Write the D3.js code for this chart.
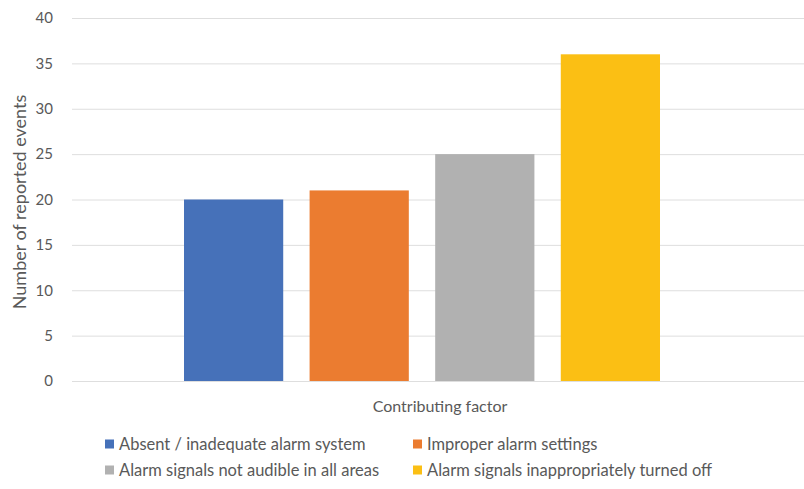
<!DOCTYPE html>
<html>
<head>
<meta charset="utf-8">
<script src="https://cdn.jsdelivr.net/npm/d3@7"></script>
<style>
  html, body { margin: 0; padding: 0; background: #ffffff; }
  svg { display: block; font-family: Lato, "Open Sans", sans-serif; }
</style>
</head>
<body>
<svg id="chart" width="804" height="489"></svg>
<script>
// Contributing factors to alarm-related events
const factors = [
  "Absent / inadequate alarm system",
  "Improper alarm settings",
  "Alarm signals not audible in all areas",
  "Alarm signals inappropriately turned off"
];
const eventCounts = [20, 21, 25, 36];
const barColors = ["#4671b9", "#eb7c30", "#b1b1b1", "#fbbf14"];
const yTicks = [0, 5, 10, 15, 20, 25, 30, 35, 40];
const categoryLabel = "Contributing factor";
const yTitle = "Number of reported events";

const svg = d3.select("#chart");
const plot = { left: 72, right: 772, top: 18, bottom: 381 };
const textColor = "#595959";

const y = d3.scaleLinear().domain([0, 40]).range([plot.bottom, plot.top]);
const x = d3.scaleBand().domain(factors).range([184, 660]).paddingInner(0.21).paddingOuter(0);

// horizontal gridlines
svg.append("g")
  .selectAll("line")
  .data(yTicks)
  .join("line")
  .attr("x1", plot.left)
  .attr("x2", 804)
  .attr("y1", d => y(d) + 0.5)
  .attr("y2", d => y(d) + 0.5)
  .attr("stroke", "#dedede")
  .attr("stroke-width", 1);

// y axis labels
const yAxis = d3.axisLeft(y).tickValues(yTicks).tickSize(0).tickPadding(0);
const gy = svg.append("g").attr("transform", `translate(53,0)`).call(yAxis);
gy.select(".domain").remove();
gy.selectAll("text")
  .attr("fill", textColor)
  .attr("font-size", 15)
  .attr("font-family", "Lato, sans-serif");

// bars
svg.append("g")
  .selectAll("rect")
  .data(factors)
  .join("rect")
  .attr("x", d => x(d))
  .attr("width", x.bandwidth())
  .attr("y", (d, i) => y(eventCounts[i]))
  .attr("height", (d, i) => y(0) - y(eventCounts[i]))
  .attr("fill", (d, i) => barColors[i]);

// axis titles
svg.append("text")
  .attr("x", 440)
  .attr("y", 412)
  .attr("text-anchor", "middle")
  .attr("fill", textColor)
  .attr("font-size", 16)
  .text(categoryLabel);

svg.append("text")
  .attr("transform", "translate(20,202) rotate(-90)")
  .attr("text-anchor", "middle")
  .attr("dy", "0.35em")
  .attr("fill", textColor)
  .attr("font-size", 18)
  .text(yTitle);

// legend (two columns, two rows)
const legendPos = [
  { x: 105, y: 444 },
  { x: 413, y: 444 },
  { x: 105, y: 470 },
  { x: 413, y: 470 }
];
const legend = svg.append("g")
  .selectAll("g")
  .data(factors)
  .join("g")
  .attr("transform", (d, i) => `translate(${legendPos[i].x},${legendPos[i].y})`);
legend.append("rect")
  .attr("x", 0).attr("y", -4.5)
  .attr("width", 9).attr("height", 9)
  .attr("fill", (d, i) => barColors[i]);
legend.append("text")
  .attr("x", 14)
  .attr("y", 0)
  .attr("dy", "0.35em")
  .attr("fill", textColor)
  .attr("font-size", 16.5)
  .text(d => d);
</script>
</body>
</html>
